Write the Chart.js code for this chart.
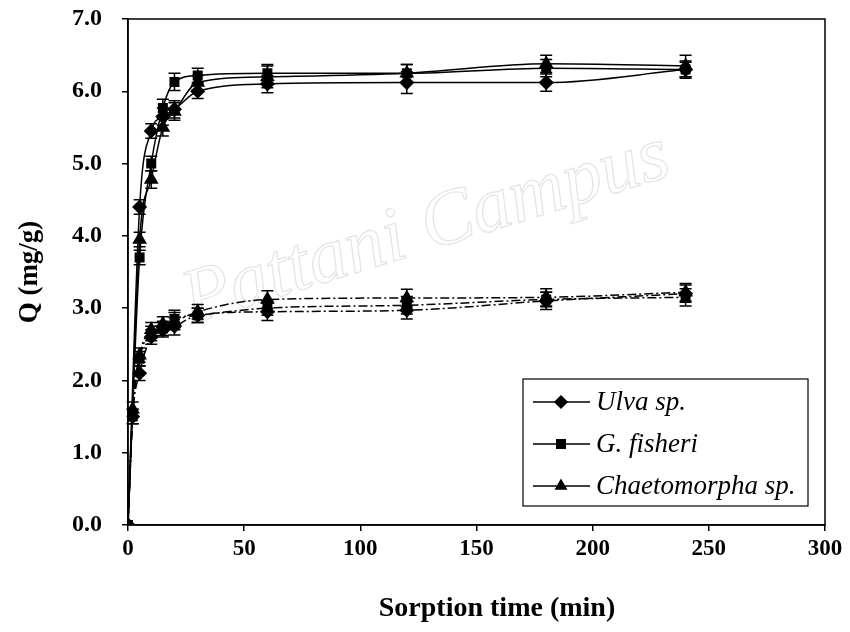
<!DOCTYPE html>
<html>
<head>
<meta charset="utf-8">
<script src="https://cdn.jsdelivr.net/npm/chart.js@4"></script>
<style>
  body { margin: 0; background: #fff; }
  #wrap { width: 850px; height: 632px; position: relative; }
</style>
</head>
<body>
<div id="wrap"><canvas id="c"></canvas></div>
<script>
// sorption time (min)
const timeUpper = [0, 5, 10, 15, 20, 30, 60, 120, 180, 240];
const timeLower = [0, 2, 5, 10, 15, 20, 30, 60, 120, 180, 240];

// upper curves (solid)
const ulvaUpper = [0, 4.4, 5.45, 5.65, 5.75, 6.0, 6.1, 6.12, 6.12, 6.3];
const fisheriUpper = [0, 3.7, 5.0, 5.77, 6.13, 6.22, 6.25, 6.25, 6.32, 6.3];
const chaetoUpper = [0, 3.95, 4.78, 5.5, 5.72, 6.12, 6.2, 6.25, 6.38, 6.35];
const ulvaUpperErr = [0, 0.1, 0.1, 0.12, 0.12, 0.1, 0.12, 0.15, 0.12, 0.1];
const fisheriUpperErr = [0, 0.1, 0.1, 0.12, 0.12, 0.1, 0.12, 0.12, 0.12, 0.12];
const chaetoUpperErr = [0, 0.1, 0.12, 0.12, 0.12, 0.1, 0.15, 0.12, 0.12, 0.15];

// lower curves (dash-dot)
const ulvaLower = [0, 1.5, 2.1, 2.6, 2.7, 2.75, 2.9, 2.95, 2.97, 3.1, 3.2];
const fisheriLower = [0, 1.5, 2.3, 2.65, 2.72, 2.85, 2.9, 3.0, 3.04, 3.12, 3.15];
const chaetoLower = [0, 1.6, 2.35, 2.7, 2.78, 2.82, 2.95, 3.12, 3.14, 3.15, 3.22];
const ulvaLowerErr = [0, 0.1, 0.1, 0.1, 0.1, 0.12, 0.1, 0.12, 0.12, 0.12, 0.12];
const fisheriLowerErr = [0, 0.1, 0.1, 0.1, 0.1, 0.12, 0.1, 0.1, 0.12, 0.1, 0.12];
const chaetoLowerErr = [0, 0.1, 0.1, 0.1, 0.1, 0.12, 0.1, 0.12, 0.12, 0.12, 0.12];

const xTicks = [0, 50, 100, 150, 200, 250, 300];
const yTicks = [0, 1, 2, 3, 4, 5, 6, 7];

const legendNames = ["Ulva sp.", "G. fisheri", "Chaetomorpha sp."];
const legendStyles = ["rectRot", "rect", "triangle"];
const xTitle = "Sorption time (min)";

const serif = "'Liberation Serif', 'Times New Roman', serif";

function pts(xs, ys) {
  return xs.map((x, i) => ({ x: x, y: ys[i] }));
}

function series(label, xs, ys, err, style, dashed) {
  const r = style === "triangle" ? 7 : style === "rectRot" ? 6.5 : 6;
  return {
    label: label,
    data: pts(xs, ys),
    errors: err,
    borderColor: "#000",
    backgroundColor: "#000",
    borderWidth: 1.5,
    borderDash: dashed ? [9, 3, 2, 3] : [],
    pointStyle: style,
    pointRadius: r,
    pointBackgroundColor: "#000",
    pointBorderColor: "#000",
    cubicInterpolationMode: "monotone",
    fill: false,
  };
}

const errorBars = {
  id: "errorBars",
  afterDatasetsDraw(chart) {
    const ctx = chart.ctx;
    const xs = chart.scales.x, ys = chart.scales.y;
    ctx.save();
    ctx.strokeStyle = "#000";
    ctx.lineWidth = 1.5;
    chart.data.datasets.forEach((ds) => {
      ds.data.forEach((p, i) => {
        const e = ds.errors[i];
        if (!e) return;
        const px = xs.getPixelForValue(p.x);
        const top = ys.getPixelForValue(p.y + e);
        const bot = ys.getPixelForValue(p.y - e);
        ctx.beginPath();
        ctx.moveTo(px, top); ctx.lineTo(px, bot);
        ctx.moveTo(px - 6, top); ctx.lineTo(px + 6, top);
        ctx.moveTo(px - 6, bot); ctx.lineTo(px + 6, bot);
        ctx.stroke();
      });
    });
    ctx.restore();
  },
};

const frameAndLegend = {
  id: "frameAndLegend",
  beforeDraw(chart) {
    const ctx = chart.ctx;
    ctx.save();
    // faint watermark
    ctx.strokeStyle = "#e4e4e4";
    ctx.lineWidth = 1.2;
    ctx.font = "italic 78px " + serif;
    ctx.translate(430, 250);
    ctx.rotate(-0.3);
    ctx.strokeText("Pattani Campus", -250, 0);
    ctx.restore();
  },
  afterDraw(chart) {
    const ctx = chart.ctx;
    const a = chart.chartArea;
    ctx.save();
    ctx.strokeStyle = "#000";
    ctx.lineWidth = 1.5;
    ctx.strokeRect(a.left, a.top, a.right - a.left, a.bottom - a.top);

    // x axis title, a little right of centre as in the original
    ctx.fillStyle = "#000";
    ctx.font = "bold 28px " + serif;
    ctx.textAlign = "center";
    ctx.textBaseline = "middle";
    ctx.fillText(xTitle, 497, 609);
    ctx.textAlign = "left";

    // legend box
    const bx = 523, by = 379, bw = 285, bh = 127;
    ctx.fillStyle = "#fff";
    ctx.fillRect(bx, by, bw, bh);
    ctx.lineWidth = 1.2;
    ctx.strokeRect(bx, by, bw, bh);
    ctx.font = "italic 27px " + serif;
    legendNames.forEach((name, i) => {
      const y = by + 23 + i * 42;
      ctx.strokeStyle = "#000";
      ctx.lineWidth = 1.5;
      ctx.beginPath();
      ctx.moveTo(533, y); ctx.lineTo(590, y);
      ctx.stroke();
      ctx.fillStyle = "#000";
      Chart.helpers.drawPoint(ctx, { pointStyle: legendStyles[i], radius: 6, borderWidth: 1 }, 561, y);
      ctx.fill();
      ctx.fillText(name, 596, y + 1);
    });
    ctx.restore();
  },
};

new Chart(document.getElementById("c"), {
  type: "line",
  data: {
    datasets: [
      series("Ulva sp.", timeUpper, ulvaUpper, ulvaUpperErr, "rectRot", false),
      series("G. fisheri", timeUpper, fisheriUpper, fisheriUpperErr, "rect", false),
      series("Chaetomorpha sp.", timeUpper, chaetoUpper, chaetoUpperErr, "triangle", false),
      series("Ulva sp. (2)", timeLower, ulvaLower, ulvaLowerErr, "rectRot", true),
      series("G. fisheri (2)", timeLower, fisheriLower, fisheriLowerErr, "rect", true),
      series("Chaetomorpha sp. (2)", timeLower, chaetoLower, chaetoLowerErr, "triangle", true),
    ],
  },
  options: {
    responsive: true,
    maintainAspectRatio: false,
    animation: false,
    layout: { padding: { top: 19, right: 25, left: 0, bottom: 0 } },
    plugins: {
      legend: { display: false },
      tooltip: { enabled: false },
    },
    scales: {
      x: {
        type: "linear",
        min: 0,
        max: 300,
        afterBuildTicks: (s) => { s.ticks = xTicks.map((v) => ({ value: v })); },
        afterFit: (s) => { s.height = 107; },
        grid: { display: true, drawOnChartArea: false, tickLength: 6, color: "#000", lineWidth: 1.5 },
        border: { color: "#000", width: 1.5 },
        ticks: { color: "#000", padding: 4, font: { family: serif, size: 23, weight: "bold" } },
      },
      y: {
        min: 0,
        max: 7,
        afterBuildTicks: (s) => { s.ticks = yTicks.map((v) => ({ value: v })); },
        afterFit: (s) => { s.width = 128; s.paddingTop = 0; s.paddingBottom = 0; },
        grid: { display: true, drawOnChartArea: false, tickLength: 6, color: "#000", lineWidth: 1.5 },
        border: { color: "#000", width: 1.5 },
        ticks: {
          color: "#000",
          padding: 20,
          font: { family: serif, size: 24, weight: "bold" },
          callback: (v) => v.toFixed(1),
        },
        title: {
          display: true,
          text: "Q (mg/g)",
          color: "#000",
          padding: { top: 14, bottom: 0 },
          font: { family: serif, size: 27, weight: "bold" },
        },
      },
    },
  },
  plugins: [errorBars, frameAndLegend],
});
</script>
</body>
</html>
